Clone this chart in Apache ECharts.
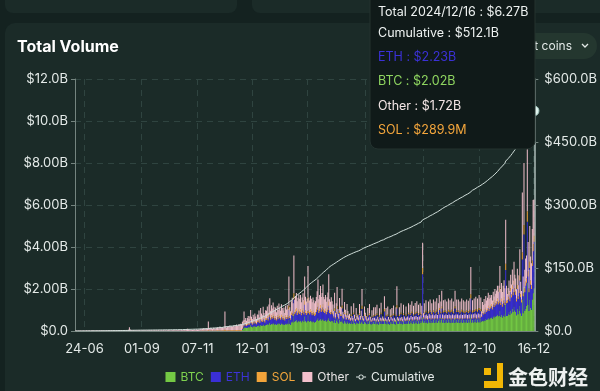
<!DOCTYPE html>
<html><head><meta charset="utf-8">
<script src="https://cdn.jsdelivr.net/npm/echarts/dist/echarts.min.js"></script>
<style>
html,body{margin:0;padding:0;background:#142220;overflow:hidden;width:600px;height:391px;}
#c{width:600px;height:391px;}
</style></head><body><div id="c"></div>
<script>
// ---- data (values in billions USD, daily, 2023-06-13 .. 2024-12-16) ----
const startDay = '2023-06-13';
const endDay = '2024-12-16';
const tickDates = ['2023-06-24','2023-09-01','2023-11-07','2024-01-12','2024-03-19','2024-05-27','2024-08-05','2024-10-12','2024-12-16'];
const leftTickLabels = ['$0.0','$2.00B','$4.00B','$6.00B','$8.00B','$10.0B','$12.0B'];
const rightTickLabels = ['$0.0','$150.0B','$300.0B','$450.0B','$600.0B'];
const seriesNames = ['BTC','ETH','SOL','Other','Cumulative'];

const btc = [
0,0,0,0,0,0,0,0,0,0, 0,0,0,0,0,0,0,0,0,0, 0,0,0,0,0,0,0,0,0,0, 0,0,0,0,0,0,0,0,0,0,
0,0,0,0,0,0,0,0,0,0, 0,0,0,0,0,0,0,0,0,0, 0,0,0,0,0,0,0,0,0,0, 0,0,0,0,0,0,0,0,0,0,
0,0,0,0,0,0,0,0,0,0, 0,0,0,0,0,0,0,0,0,0, 0,0,0,0,0,0,0,0,0,0, 0,0,0,0,0,0,0,0,0,0,
0,0,0,0,0,0,0,0,0,0, 0,0,0,0,0,0,0,0,0,0, 0,0,0,0,0,0,0,0,0,0, 0,0,0,0,0,0,0,0,0,0,
0,0,0,0,0,0,0,0,0,0, 0,0,0,0,0,0,0,0,0,0, 0,0,0,0,0,0,0,0,0,0, 0,0,0,0,0,0,0,0,0,0,
0,0.05,0.12,0.2,0.15,0.18,0.14,0.16,0.2,0.17,
0.2,0.3,0.22,0.18,0.24,0.2,0.26,0.22,0.19,0.25,
0.24,0.28,0.22,0.3,0.26,0.25,0.32,0.27,0.24,0.3,
0.3,0.34,0.28,0.36,0.4,0.3,0.35,0.32,0.38,0.34,
0.3,0.34,0.28,0.36,0.32,0.38,0.34,0.3,0.37,0.33,
0.3,0.34,0.28,0.36,0.32,0.37,0.32,0.55,0.35,0.3,
0.42,0.46,0.4,0.8,0.44,0.48,0.52,0.42,0.46,0.5,
0.45,0.5,0.42,0.48,0.52,0.44,0.7,0.48,0.42,0.46,
0.75,0.48,0.44,0.5,0.46,0.42,0.48,0.44,0.4,0.43,
0.5,0.55,0.62,0.48,0.52,0.58,0.5,0.54,0.6,0.5,
0.48,0.52,0.45,0.5,0.55,0.62,0.48,0.45,0.5,0.46,
0.48,0.4,0.55,0.38,0.5,0.6,0.42,0.36,0.52,0.45,
0.45,0.62,0.4,0.36,0.5,0.42,0.35,0.48,0.4,0.34,
0.4,0.34,0.46,0.36,0.33,0.5,0.38,0.32,0.44,0.36,
0.38,0.34,0.48,0.36,0.42,0.6,0.36,0.33,0.45,0.4,
0.36,0.32,0.45,0.34,0.48,0.35,0.31,0.42,0.33,0.44,
0.34,0.46,0.32,0.48,0.35,0.31,0.44,0.34,0.5,0.33,
0.36,0.33,0.55,0.34,0.45,0.32,0.47,0.35,0.31,0.44,
0.35,0.45,0.33,0.48,0.34,0.31,0.46,0.62,0.35,0.33,
0.46,0.34,0.5,0.35,0.32,0.48,0.36,0.33,0.47,0.35,
0.36,0.5,0.34,0.48,0.37,0.52,0.35,0.47,0.36,0.5,
0.37,0.52,0.35,0.48,0.36,0.5,0.38,0.47,0.65,0.4,
0.5,0.38,0.54,0.4,0.37,0.52,0.4,0.55,0.38,0.5,
0.4,0.55,0.38,0.52,0.4,0.56,0.39,0.5,0.6,0.4,
0.52,0.62,0.4,0.54,0.38,0.55,0.4,0.52,0.39,0.56,
0.4,0.54,0.38,0.56,0.4,0.52,0.38,0.62,0.4,0.55,
0.4,0.55,0.38,0.52,0.4,0.56,0.39,0.54,0.4,0.52,
0.41,0.55,0.39,0.53,0.4,0.56,0.8,0.4,0.54,0.41,
0.55,0.42,0.58,0.4,0.56,0.42,0.6,0.41,0.57,0.45,
0.5,0.46,0.54,0.48,0.58,0.52,0.56,0.62,0.55,0.6,
0.62,0.66,0.58,0.7,0.64,0.74,0.68,0.72,0.78,0.7,
0.72,0.95,0.68,0.76,0.64,0.72,0.8,0.68,1.3,0.72,
0.72,0.8,0.9,0.76,0.98,0.85,1.05,0.9,1.15,0.98,
0.9,0.75,1.05,0.8,0.95,1.2,0.85,0.72,1.5,0.85,
2.1,0.95,1.05,1.2,2.3,1.25,0.95,1.5,1.1,1.0,
1.5,1.8,2.02
];

const eth = [
0,0,0,0,0,0,0,0,0,0, 0,0,0,0,0,0,0,0,0,0, 0,0,0,0,0,0,0,0,0,0, 0,0,0,0,0,0,0,0,0,0,
0,0,0,0,0,0,0,0,0,0, 0,0,0,0,0,0,0,0,0,0, 0,0,0,0,0,0,0,0,0,0, 0,0,0,0,0,0,0,0,0,0,
0,0,0,0,0,0,0,0,0,0, 0,0,0,0,0,0,0,0,0,0, 0,0,0,0,0,0,0,0,0,0, 0,0,0,0,0,0,0,0,0,0,
0,0,0,0,0,0,0,0,0,0, 0,0,0,0,0,0,0,0,0,0, 0,0,0,0,0,0,0,0,0,0, 0,0,0,0,0,0,0,0,0,0,
0,0,0,0,0,0,0,0,0,0, 0,0,0,0,0,0,0,0,0,0, 0,0,0,0,0,0,0,0,0,0, 0,0,0,0,0,0,0,0,0,0,
0,0.04,0.08,0.15,0.1,0.12,0.1,0.12,0.14,0.11,
0.14,0.2,0.15,0.12,0.16,0.14,0.18,0.15,0.13,0.17,
0.18,0.22,0.16,0.24,0.2,0.18,0.25,0.2,0.17,0.23,
0.24,0.28,0.22,0.3,0.34,0.24,0.3,0.26,0.32,0.28,
0.24,0.27,0.22,0.29,0.24,0.3,0.27,0.24,0.3,0.27,
0.24,0.27,0.22,0.28,0.25,0.29,0.26,0.45,0.27,0.23,
0.34,0.38,0.32,0.7,0.36,0.4,0.43,0.34,0.38,0.41,
0.36,0.4,0.33,0.38,0.42,0.35,0.55,0.38,0.34,0.37,
0.6,0.38,0.35,0.4,0.37,0.33,0.38,0.35,0.32,0.34,
0.4,0.45,0.55,0.38,0.42,0.5,0.4,0.44,0.52,0.4,
0.38,0.42,0.35,0.4,0.45,0.58,0.38,0.35,0.4,0.36,
0.3,0.24,0.4,0.22,0.32,0.45,0.26,0.2,0.35,0.28,
0.26,0.45,0.22,0.2,0.3,0.24,0.18,0.28,0.22,0.18,
0.18,0.14,0.26,0.16,0.14,0.3,0.17,0.13,0.24,0.16,
0.18,0.15,0.28,0.16,0.22,0.45,0.16,0.14,0.26,0.2,
0.16,0.13,0.24,0.15,0.28,0.15,0.12,0.22,0.14,0.25,
0.14,0.25,0.13,0.28,0.15,0.12,0.24,0.14,0.3,0.13,
0.15,0.13,0.38,0.14,0.24,0.12,0.26,0.15,0.12,0.23,
0.15,0.24,0.13,0.27,0.14,0.12,0.25,0.45,0.15,0.13,
0.25,0.14,0.3,0.15,0.13,0.28,0.15,0.13,0.26,0.14,
0.15,0.3,0.14,0.28,0.16,0.32,0.15,0.27,0.15,0.3,
0.16,0.32,0.15,0.28,0.15,0.3,0.17,0.27,2.05,0.2,
0.3,0.17,0.34,0.18,0.16,0.32,0.18,0.35,0.17,0.3,
0.18,0.35,0.17,0.32,0.18,0.36,0.17,0.3,0.4,0.18,
0.32,0.45,0.18,0.34,0.17,0.35,0.18,0.32,0.17,0.36,
0.18,0.34,0.17,0.36,0.18,0.32,0.17,0.45,0.18,0.35,
0.18,0.35,0.17,0.32,0.18,0.36,0.17,0.34,0.18,0.32,
0.18,0.35,0.17,0.33,0.18,0.36,0.75,0.18,0.34,0.18,
0.36,0.19,0.38,0.18,0.36,0.19,0.4,0.18,0.37,0.22,
0.36,0.32,0.4,0.34,0.44,0.38,0.42,0.48,0.4,0.45,
0.48,0.52,0.44,0.56,0.5,0.6,0.53,0.58,0.64,0.56,
0.6,0.9,0.56,0.64,0.52,0.6,0.68,0.56,1.6,0.6,
0.62,0.7,0.8,0.66,0.88,0.75,0.95,0.8,1.05,0.88,
0.82,0.66,0.95,0.72,0.86,1.2,0.76,0.64,1.9,0.8,
2.5,0.9,1.1,1.1,2.9,1.35,0.9,1.5,1.1,1.0,
1.6,2.0,2.23
];

const sol = [
0,0,0,0,0,0,0,0,0,0, 0,0,0,0,0,0,0,0,0,0, 0,0,0,0,0,0,0,0,0,0, 0,0,0,0,0,0,0,0,0,0,
0,0,0,0,0,0,0,0,0,0, 0,0,0,0,0,0,0,0,0,0, 0,0,0,0,0,0,0,0,0,0, 0,0,0,0,0,0,0,0,0,0,
0,0,0,0,0,0,0,0,0,0, 0,0,0,0,0,0,0,0,0,0, 0,0,0,0,0,0,0,0,0,0, 0,0,0,0,0,0,0,0,0,0,
0,0,0,0,0,0,0,0,0,0, 0,0,0,0,0,0,0,0,0,0, 0,0,0,0,0,0,0,0,0,0,
0.01,0.01,0.01,0.02,0.01,0.01,0.02,0.01,0.01,0.02,
0.03,0.02,0.01,0.02,0.02,0.01,0.02,0.02,0.01,0.02,
0.02,0.03,0.02,0.02,0.03,0.02,0.02,0.03,0.02,0.03,
0.08,0.03,0.02,0.03,0.03,0.03,0.04,0.03,0.03,0.03,
0.04,0.04,0.03,0.04,0.05,0.04,0.04,0.05,0.04,0.05,
0.04,0.05,0.05,0.08,0.05,0.06,0.05,0.06,0.07,0.05,
0.06,0.08,0.06,0.05,0.07,0.06,0.07,0.06,0.05,0.07,
0.07,0.08,0.06,0.1,0.07,0.06,0.09,0.07,0.06,0.08,
0.08,0.1,0.07,0.1,0.12,0.08,0.1,0.09,0.11,0.09,
0.08,0.09,0.07,0.09,0.08,0.11,0.09,0.08,0.1,0.09,
0.08,0.09,0.06,0.1,0.08,0.1,0.08,0.2,0.09,0.07,
0.11,0.12,0.1,0.3,0.11,0.13,0.14,0.11,0.12,0.13,
0.12,0.13,0.1,0.12,0.14,0.11,0.2,0.12,0.1,0.12,
0.25,0.12,0.11,0.13,0.12,0.1,0.12,0.11,0.1,0.11,
0.12,0.14,0.18,0.1,0.12,0.16,0.12,0.13,0.15,0.12,
0.1,0.12,0.09,0.11,0.13,0.2,0.1,0.09,0.11,0.1,
0.08,0.06,0.12,0.05,0.08,0.14,0.07,0.05,0.1,0.07,
0.06,0.14,0.05,0.04,0.08,0.05,0.04,0.07,0.05,0.04,
0.04,0.03,0.06,0.04,0.03,0.07,0.04,0.03,0.06,0.04,
0.04,0.03,0.07,0.04,0.05,0.15,0.04,0.03,0.06,0.05,
0.04,0.03,0.06,0.03,0.07,0.04,0.03,0.05,0.03,0.06,
0.03,0.06,0.03,0.07,0.04,0.03,0.06,0.03,0.07,0.03,
0.04,0.03,0.12,0.03,0.06,0.03,0.06,0.04,0.03,0.05,
0.04,0.06,0.03,0.07,0.03,0.03,0.06,0.16,0.04,0.03,
0.06,0.03,0.07,0.04,0.03,0.07,0.04,0.03,0.06,0.03,
0.04,0.07,0.03,0.07,0.04,0.08,0.04,0.06,0.04,0.07,
0.04,0.08,0.04,0.07,0.04,0.07,0.04,0.06,0.3,0.05,
0.07,0.04,0.08,0.04,0.04,0.08,0.04,0.08,0.04,0.07,
0.04,0.08,0.04,0.08,0.04,0.09,0.04,0.07,0.1,0.04,
0.08,0.1,0.04,0.08,0.04,0.08,0.04,0.08,0.04,0.09,
0.04,0.08,0.04,0.09,0.04,0.08,0.04,0.1,0.04,0.08,
0.04,0.08,0.04,0.08,0.04,0.09,0.04,0.08,0.04,0.08,
0.04,0.08,0.04,0.08,0.04,0.09,0.2,0.04,0.08,0.04,
0.09,0.04,0.09,0.04,0.09,0.04,0.1,0.04,0.09,0.05,
0.07,0.06,0.08,0.06,0.09,0.07,0.08,0.1,0.08,0.09,
0.1,0.1,0.09,0.11,0.1,0.12,0.1,0.11,0.13,0.11,
0.12,0.2,0.11,0.13,0.1,0.12,0.14,0.11,0.3,0.12,
0.12,0.13,0.15,0.12,0.17,0.14,0.18,0.15,0.2,0.17,
0.16,0.13,0.19,0.14,0.17,0.24,0.15,0.13,0.35,0.15,
0.45,0.17,0.2,0.2,0.5,0.24,0.17,0.3,0.2,0.18,
0.26,0.34,0.29
];

const other = [
0.01,0.02,0.01,0.01,0.02,0.01,0.02,0.01,0.01,0.02,
0.02,0.01,0.01,0.03,0.02,0.01,0.02,0.02,0.01,0.02,
0.02,0.03,0.02,0.01,0.02,0.02,0.03,0.02,0.01,0.02,
0.02,0.02,0.03,0.02,0.02,0.01,0.02,0.03,0.02,0.02,
0.03,0.02,0.02,0.03,0.02,0.02,0.03,0.02,0.02,0.03,
0.02,0.03,0.02,0.02,0.03,0.04,0.03,0.02,0.03,0.02,
0.03,0.02,0.03,0.04,0.06,0.18,0.07,0.04,0.03,0.03,
0.03,0.02,0.03,0.03,0.02,0.03,0.02,0.03,0.02,0.02,
0.02,0.03,0.02,0.02,0.03,0.02,0.02,0.03,0.02,0.03,
0.02,0.03,0.03,0.02,0.02,0.03,0.02,0.03,0.03,0.02,
0.03,0.02,0.02,0.03,0.03,0.02,0.03,0.02,0.03,0.03,
0.02,0.03,0.03,0.04,0.03,0.02,0.03,0.04,0.03,0.03,
0.03,0.04,0.03,0.03,0.04,0.03,0.03,0.04,0.05,0.04,
0.04,0.05,0.04,0.06,0.09,0.11,0.07,0.05,0.06,0.05,
0.05,0.06,0.05,0.07,0.06,0.05,0.08,0.06,0.07,0.06,
0.08,0.1,0.07,0.09,0.12,0.08,0.1,0.09,0.11,0.1,
0.42,0.12,0.1,0.14,0.11,0.09,0.13,0.12,0.1,0.11,
0.12,0.15,0.11,0.14,0.18,0.13,0.12,0.16,0.14,0.17,
0.85,0.18,0.15,0.2,0.16,0.19,0.22,0.17,0.2,0.18,
0.2,0.24,0.19,0.22,0.26,0.2,0.23,0.28,0.25,0.3,
0.28,0.3,0.25,0.5,0.22,0.26,0.2,0.28,0.3,0.24,
0.3,0.42,0.25,0.22,0.3,0.24,0.32,0.26,0.2,0.3,
0.28,0.4,0.22,0.45,0.3,0.26,0.5,0.32,0.25,0.38,
0.35,0.45,0.3,0.5,0.7,0.35,0.48,0.4,0.55,0.45,
0.36,0.42,0.32,0.46,0.36,0.52,0.4,0.34,0.5,0.4,
0.36,0.42,0.3,0.46,0.37,0.48,0.38,1.4,0.42,0.34,
0.55,0.62,0.5,1.8,0.58,0.66,0.72,0.55,0.62,0.7,
0.6,0.68,0.52,0.62,0.72,0.58,1.15,0.65,0.54,0.6,
1.5,0.62,0.55,0.65,0.58,0.52,0.62,0.56,0.5,0.54,
0.6,0.75,1.1,0.55,0.65,0.9,0.6,0.7,0.95,0.6,
0.55,0.65,0.5,0.6,0.7,1.3,0.55,0.5,0.6,0.5,
0.4,0.25,0.75,0.22,0.42,0.9,0.3,0.2,0.6,0.35,
0.35,0.8,0.25,0.2,0.5,0.3,0.18,0.45,0.28,0.18,
0.2,0.12,0.4,0.16,0.12,0.45,0.18,0.1,0.35,0.15,
0.18,0.12,0.45,0.15,0.28,0.8,0.15,0.1,0.4,0.22,
0.15,0.1,0.35,0.12,0.45,0.14,0.09,0.3,0.12,0.38,
0.12,0.36,0.1,0.42,0.14,0.09,0.34,0.12,0.48,0.1,
0.14,0.1,0.6,0.12,0.35,0.09,0.38,0.13,0.09,0.32,
0.13,0.35,0.1,0.4,0.12,0.09,0.36,0.9,0.13,0.1,
0.36,0.12,0.45,0.13,0.1,0.42,0.14,0.1,0.38,0.12,
0.14,0.45,0.12,0.42,0.15,0.5,0.13,0.4,0.14,0.46,
0.15,0.5,0.13,0.42,0.14,0.45,0.16,0.4,1.2,0.2,
0.45,0.16,0.5,0.17,0.15,0.48,0.18,0.52,0.16,0.45,
0.17,0.52,0.16,0.48,0.18,0.55,0.16,0.45,0.62,0.17,
0.48,0.75,0.17,0.5,0.16,0.52,0.17,0.48,0.16,0.54,
0.17,0.5,0.16,0.54,0.17,0.48,0.16,0.75,0.17,0.52,
0.17,0.52,0.16,0.48,0.17,0.54,0.16,0.5,0.17,0.48,
0.17,0.52,0.16,0.5,0.17,0.55,1.3,0.17,0.5,0.17,
0.55,0.18,0.58,0.17,0.54,0.18,0.62,0.17,0.56,0.22,
0.45,0.4,0.5,0.42,0.56,0.48,0.52,0.62,0.5,0.58,
0.38,0.44,0.34,0.5,0.4,0.54,0.46,0.52,0.6,0.5,
0.72,1.05,0.65,0.76,0.6,0.72,0.8,0.68,2.1,0.72,
0.3,0.42,0.55,0.38,0.65,0.48,0.75,0.55,0.9,0.65,
0.62,0.45,0.78,0.52,0.68,1.25,0.58,0.42,2.85,0.8,
2.95,0.9,1.1,1.1,3.4,1.4,0.9,1.7,1.15,1.05,
1.5,2.1,1.72
];

// ---- build categories (one per day) ----
const dates = [];
{
  const s = Date.parse(startDay + 'T00:00:00Z'), e = Date.parse(endDay + 'T00:00:00Z');
  for (let t = s; t <= e; t += 86400000) dates.push(new Date(t).toISOString().slice(0, 10));
}
[btc, eth, sol, other].forEach((a, k) => { if (a.length !== dates.length) console.error('length mismatch', seriesNames[k], a.length, dates.length); });

// cumulative = running total of the daily stacked volume
const cumulative = [];
{ let run = 0; for (let i = 0; i < dates.length; i++) { run += (btc[i]||0) + (eth[i]||0) + (sol[i]||0) + (other[i]||0); cumulative.push(+run.toFixed(2)); } }

const C = { btc:'#74c944', eth:'#3a2fd6', sol:'#f2a43a', other:'#f3c0cc', cum:'#cfddd9' };
const FONT = 'Inter, Roboto, sans-serif';
const axisCol = '#74847f';
const lblCol = '#e4eae8';
const isTick = (i, v) => tickDates.indexOf(v) >= 0;
const last = dates.length - 1;
const cumIcon = 'path://M0,4.6 L2.6,4.6 L2.6,5.4 L0,5.4 Z M7.4,4.6 L10,4.6 L10,5.4 L7.4,5.4 Z M7.6,5 A2.6,2.6 0 1,0 2.4,5 A2.6,2.6 0 1,0 7.6,5 Z M6.7,5 A1.7,1.7 0 1,1 3.3,5 A1.7,1.7 0 1,1 6.7,5 Z';

const chart = echarts.init(document.getElementById('c'), null, { renderer: 'canvas' });
chart.setOption({
  animation: false,
  backgroundColor: '#142220',
  textStyle: { fontFamily: FONT },
  title: { text: 'Total Volume', left: 12, top: 34, textStyle: { color: '#ffffff', fontSize: 16, fontWeight: 'bold', fontFamily: FONT } },
  grid: { left: 75, right: 57, top: 79, bottom: 60, containLabel: false },
  legend: {
    bottom: 8, left: 'center', itemWidth: 10, itemHeight: 10, itemGap: 7, padding: 0,
    textStyle: { fontSize: 12, fontFamily: FONT },
    data: [
      { name: 'BTC', icon: 'rect', textStyle: { color: '#7fd24f' } },
      { name: 'ETH', icon: 'rect', textStyle: { color: '#3d33d8' } },
      { name: 'SOL', icon: 'rect', textStyle: { color: '#f4a63c' } },
      { name: 'Other', icon: 'rect', textStyle: { color: '#e6e3e3' } },
      { name: 'Cumulative', icon: cumIcon, itemStyle: { color: '#e2ebe8' }, textStyle: { color: '#e6ecea' } }
    ]
  },
  xAxis: {
    type: 'category', data: dates, boundaryGap: true,
    axisLine: { lineStyle: { color: axisCol } },
    axisTick: { alignWithLabel: true, interval: isTick, length: 4, lineStyle: { color: axisCol } },
    axisLabel: { interval: isTick, color: lblCol, fontSize: 13, margin: 12, fontFamily: FONT,
      formatter: v => v.slice(8, 10) + '-' + v.slice(5, 7) },
    splitLine: { show: true, interval: isTick, lineStyle: { color: '#2f4440', type: [6, 5] } }
  },
  yAxis: [
    { type: 'value', min: 0, max: 12, interval: 2, position: 'left',
      axisLine: { show: true, lineStyle: { color: axisCol } },
      axisTick: { show: true, length: 4, lineStyle: { color: axisCol } },
      axisLabel: { color: lblCol, fontSize: 13, margin: 7, fontFamily: FONT, formatter: v => leftTickLabels[Math.round(v / 2)] },
      splitLine: { lineStyle: { color: '#2f4440', type: [6, 5] } } },
    { type: 'value', min: 0, max: 600, interval: 150, position: 'right',
      axisLine: { show: true, lineStyle: { color: '#aebdb9', width: 1.5 } },
      axisTick: { show: true, length: 4, lineStyle: { color: axisCol } },
      axisLabel: { color: lblCol, fontSize: 13, margin: 10, fontFamily: FONT, formatter: v => rightTickLabels[Math.round(v / 150)] },
      splitLine: { show: false } }
  ],
  series: [
    { name: 'BTC', type: 'bar', stack: 'v', data: btc, itemStyle: { color: C.btc }, barCategoryGap: '15%' },
    { name: 'ETH', type: 'bar', stack: 'v', data: eth, itemStyle: { color: C.eth } },
    { name: 'SOL', type: 'bar', stack: 'v', data: sol, itemStyle: { color: C.sol } },
    { name: 'Other', type: 'bar', stack: 'v', data: other, itemStyle: { color: C.other } },
    { name: 'Cumulative', type: 'line', yAxisIndex: 1, data: cumulative.map((v, i) => i === last
        ? { value: v, symbol: 'circle', symbolSize: 10, itemStyle: { color: '#dff3ee', borderColor: '#9fc5bd', borderWidth: 1 } }
        : v),
      symbol: 'emptyCircle', symbolSize: 0, showSymbol: true, showAllSymbol: true,
      lineStyle: { color: C.cum, width: 1 }, itemStyle: { color: C.cum }, z: 5 }
  ],
  graphic: [
    { type: 'rect', z: -10, shape: { x: 5, y: -20, width: 232, height: 33, r: 8 }, style: { fill: '#1b2b28' } },
    { type: 'rect', z: -10, shape: { x: 252, y: -20, width: 370, height: 33, r: 8 }, style: { fill: '#1b2b28' } },
    { type: 'rect', z: -10, shape: { x: 5, y: 23, width: 620, height: 400, r: 10 }, style: { fill: '#1b2b28' } },
    { type: 'rect', z: 50, shape: { x: 484, y: 33, width: 113, height: 26, r: 13 }, style: { fill: '#24372f' } },
    { type: 'text', z: 51, x: 572, y: 46, style: { text: 'Select coins', fill: '#e3e9e7', font: '12px ' + FONT, textAlign: 'right', textVerticalAlign: 'middle' } },
    { type: 'polyline', z: 51, shape: { points: [[582, 44], [585, 47], [588, 44]] }, style: { stroke: '#e3e9e7', lineWidth: 1.3, fill: null } },
    // tooltip
    { type: 'rect', z: 100, shape: { x: 370, y: -10, width: 165, height: 159, r: 8 }, style: { fill: '#101a19', stroke: '#24322f', lineWidth: 1 } },
    { type: 'text', z: 101, x: 378, y: 12, style: { text: 'Total 2024/12/16 : $6.27B', fill: '#eef2f1', font: '12.5px ' + FONT, textVerticalAlign: 'middle' } },
    { type: 'text', z: 101, x: 378, y: 33, style: { text: 'Cumulative : $512.1B', fill: '#eef2f1', font: '12.5px ' + FONT, textVerticalAlign: 'middle' } },
    { type: 'text', z: 101, x: 378, y: 57, style: { text: 'ETH : $2.23B', fill: '#3b31d6', font: '12.5px ' + FONT, textVerticalAlign: 'middle' } },
    { type: 'text', z: 101, x: 378, y: 81, style: { text: 'BTC : $2.02B', fill: '#8fd660', font: '12.5px ' + FONT, textVerticalAlign: 'middle' } },
    { type: 'text', z: 101, x: 378, y: 106, style: { text: 'Other : $1.72B', fill: '#f4e6e6', font: '12.5px ' + FONT, textVerticalAlign: 'middle' } },
    { type: 'text', z: 101, x: 378, y: 130, style: { text: 'SOL : $289.9M', fill: '#f4a63c', font: '12.5px ' + FONT, textVerticalAlign: 'middle' } },
    // watermark
    { type: 'rect', z: 60, shape: { x: 497, y: 363, width: 6, height: 25 }, style: { fill: '#f2b705' } },
    { type: 'rect', z: 60, shape: { x: 484, y: 381, width: 19, height: 7 }, style: { fill: '#f2b705' } },
    { type: 'rect', z: 60, shape: { x: 484, y: 368, width: 7, height: 7 }, style: { fill: '#f2b705' } },
    { type: 'text', z: 60, x: 508, y: 377, style: { text: '金色财经', fill: '#eef1f0', font: 'bold 20px "Noto Sans CJK SC"', textVerticalAlign: 'middle' } }
  ]
});
</script></body></html>
